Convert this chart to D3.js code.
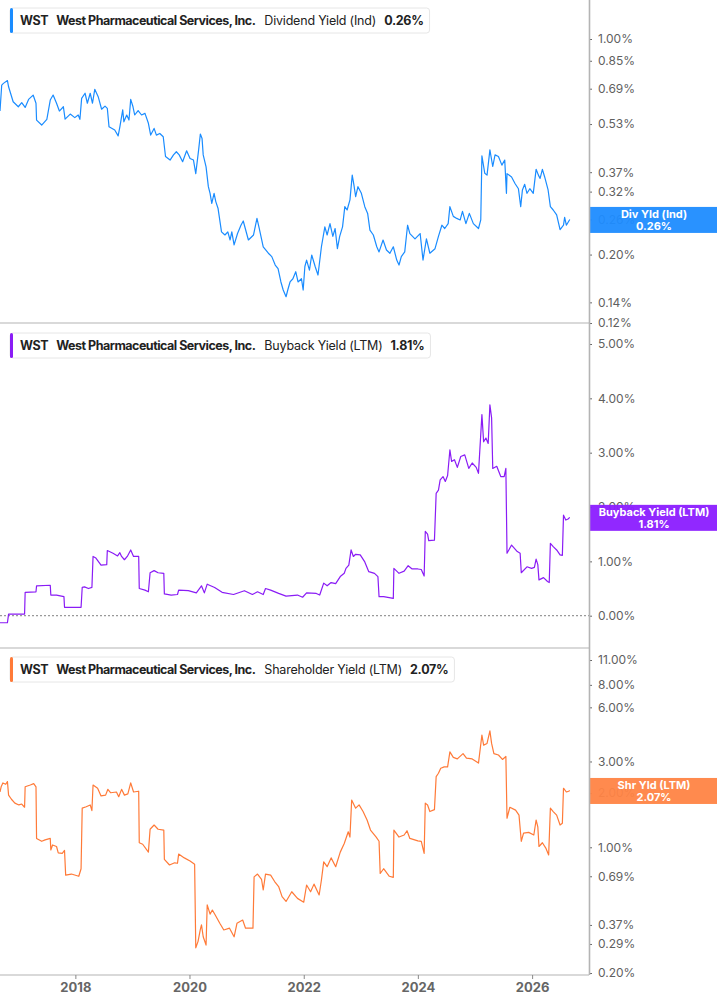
<!DOCTYPE html>
<html><head><meta charset="utf-8">
<script src="https://cdn.jsdelivr.net/npm/d3@7/dist/d3.min.js"></script>
<style>
html,body{margin:0;padding:0;background:#fff;}
svg{display:block;font-family:Inter,"Noto Sans",sans-serif;}
</style></head><body>
<svg id="c" width="717" height="1005"></svg>
<script>
// ---- data (decimal years, values in %) ----
const divYears = [2016.68,2016.71,2016.74,2016.81,2016.83,2016.91,2017.00,2017.06,2017.12,2017.18,2017.26,2017.31,2017.32,2017.41,2017.50,2017.56,2017.61,2017.67,2017.72,2017.79,2017.82,2017.91,2017.99,2018.05,2018.08,2018.11,2018.17,2018.21,2018.26,2018.30,2018.34,2018.40,2018.46,2018.52,2018.56,2018.59,2018.69,2018.75,2018.78,2018.83,2018.85,2018.90,2018.94,2018.97,2019.01,2019.04,2019.10,2019.16,2019.22,2019.28,2019.32,2019.38,2019.42,2019.48,2019.54,2019.58,2019.66,2019.72,2019.77,2019.82,2019.88,2019.95,2020.01,2020.07,2020.11,2020.16,2020.19,2020.22,2020.24,2020.29,2020.33,2020.36,2020.39,2020.43,2020.46,2020.50,2020.56,2020.62,2020.67,2020.71,2020.74,2020.78,2020.84,2020.90,2020.94,2021.03,2021.12,2021.18,2021.22,2021.29,2021.38,2021.44,2021.50,2021.55,2021.60,2021.64,2021.69,2021.72,2021.76,2021.81,2021.86,2021.90,2021.96,2021.99,2022.02,2022.05,2022.10,2022.14,2022.20,2022.25,2022.31,2022.37,2022.41,2022.46,2022.51,2022.55,2022.59,2022.63,2022.68,2022.72,2022.76,2022.81,2022.85,2022.88,2022.91,2022.95,2023.01,2023.07,2023.12,2023.16,2023.22,2023.28,2023.32,2023.39,2023.45,2023.51,2023.57,2023.63,2023.67,2023.71,2023.77,2023.82,2023.86,2023.95,2024.04,2024.09,2024.15,2024.21,2024.30,2024.36,2024.42,2024.47,2024.53,2024.56,2024.62,2024.68,2024.74,2024.78,2024.84,2024.90,2024.97,2025.06,2025.10,2025.12,2025.17,2025.21,2025.26,2025.31,2025.35,2025.41,2025.47,2025.52,2025.55,2025.56,2025.64,2025.70,2025.76,2025.80,2025.83,2025.87,2025.91,2025.96,2026.02,2026.07,2026.11,2026.14,2026.18,2026.22,2026.28,2026.32,2026.37,2026.43,2026.49,2026.55,2026.57,2026.60,2026.66];
const divValues = [0.584,0.709,0.718,0.733,0.700,0.626,0.603,0.622,0.600,0.637,0.658,0.619,0.546,0.526,0.549,0.634,0.658,0.619,0.584,0.603,0.550,0.571,0.556,0.567,0.549,0.642,0.667,0.619,0.667,0.619,0.687,0.650,0.592,0.606,0.596,0.519,0.507,0.485,0.519,0.589,0.539,0.567,0.546,0.637,0.603,0.567,0.586,0.567,0.574,0.533,0.488,0.513,0.488,0.494,0.482,0.416,0.405,0.421,0.431,0.421,0.400,0.434,0.410,0.405,0.366,0.437,0.492,0.476,0.421,0.385,0.332,0.316,0.293,0.316,0.297,0.282,0.237,0.2315,0.237,0.223,0.237,0.215,0.234,0.249,0.257,0.223,0.2315,0.262,0.243,0.212,0.202,0.197,0.185,0.180,0.163,0.1535,0.146,0.1535,0.163,0.167,0.176,0.163,0.167,0.1535,0.183,0.192,0.178,0.1994,0.183,0.1717,0.212,0.246,0.2315,0.252,0.229,0.243,0.209,0.229,0.246,0.286,0.279,0.301,0.362,0.336,0.308,0.332,0.316,0.286,0.272,0.240,0.2315,0.212,0.204,0.223,0.207,0.202,0.212,0.192,0.185,0.197,0.204,0.249,0.234,0.225,0.234,0.192,0.225,0.202,0.209,0.229,0.249,0.243,0.252,0.286,0.266,0.262,0.259,0.276,0.252,0.272,0.252,0.243,0.259,0.418,0.367,0.362,0.437,0.386,0.421,0.416,0.390,0.405,0.316,0.366,0.357,0.340,0.327,0.286,0.324,0.338,0.316,0.327,0.316,0.378,0.362,0.353,0.378,0.357,0.324,0.286,0.279,0.269,0.241,0.249,0.264,0.249,0.26];

const bbYears = [2016.68,2016.81,2016.83,2017.11,2017.12,2017.31,2017.32,2017.56,2017.57,2017.67,2017.80,2017.81,2018.10,2018.12,2018.16,2018.23,2018.29,2018.31,2018.36,2018.45,2018.55,2018.56,2018.66,2018.74,2018.78,2018.81,2018.86,2018.91,2018.97,2019.02,2019.11,2019.12,2019.22,2019.28,2019.31,2019.38,2019.45,2019.55,2019.56,2019.68,2019.79,2019.81,2019.98,2020.12,2020.21,2020.26,2020.31,2020.44,2020.57,2020.77,2020.96,2021.10,2021.19,2021.29,2021.33,2021.42,2021.56,2021.69,2021.89,2021.98,2022.05,2022.22,2022.28,2022.35,2022.41,2022.48,2022.56,2022.64,2022.71,2022.74,2022.79,2022.83,2022.87,2022.91,2022.99,2023.07,2023.14,2023.24,2023.30,2023.32,2023.40,2023.57,2023.58,2023.67,2023.76,2023.83,2023.90,2024.00,2024.06,2024.11,2024.13,2024.17,2024.19,2024.29,2024.32,2024.36,2024.39,2024.44,2024.48,2024.52,2024.56,2024.59,2024.64,2024.69,2024.75,2024.82,2024.89,2024.95,2025.02,2025.06,2025.12,2025.15,2025.19,2025.23,2025.26,2025.29,2025.31,2025.38,2025.45,2025.51,2025.54,2025.56,2025.64,2025.74,2025.79,2025.81,2025.91,2025.99,2026.04,2026.07,2026.10,2026.12,2026.20,2026.27,2026.30,2026.32,2026.37,2026.43,2026.49,2026.53,2026.55,2026.59,2026.63,2026.66];
const bbValues = [-0.13,-0.13,0.03,0.03,0.43,0.44,0.55,0.56,0.38,0.38,0.35,0.155,0.155,0.52,0.53,0.50,0.52,1.09,1.06,0.93,0.94,1.20,1.15,1.10,1.16,1.09,1.03,1.09,1.21,1.09,1.09,0.50,0.47,0.44,0.79,0.83,0.79,0.78,0.40,0.38,0.39,0.47,0.46,0.42,0.55,0.42,0.58,0.52,0.43,0.39,0.46,0.39,0.44,0.39,0.50,0.47,0.41,0.36,0.38,0.34,0.42,0.41,0.38,0.60,0.55,0.61,0.59,0.72,0.78,0.87,0.93,1.21,1.09,1.13,1.12,0.99,0.81,0.78,0.72,0.35,0.35,0.32,0.87,0.78,0.82,0.92,0.86,0.86,0.85,0.73,1.55,1.50,1.38,1.39,2.25,2.31,2.50,2.56,2.47,2.58,3.05,2.84,2.87,2.73,2.93,2.96,2.71,2.81,2.73,2.62,3.70,3.20,3.27,3.17,3.88,3.64,2.71,2.75,2.56,2.56,2.71,1.15,1.30,1.18,1.15,0.79,0.90,0.87,0.89,1.04,0.94,0.66,0.70,0.63,0.61,1.33,1.27,1.21,1.12,1.11,1.85,1.76,1.78,1.81];

const shYears = [2016.68,2016.70,2016.73,2016.78,2016.81,2016.83,2016.88,2016.94,2017.01,2017.06,2017.11,2017.12,2017.21,2017.27,2017.31,2017.32,2017.41,2017.47,2017.56,2017.57,2017.60,2017.67,2017.70,2017.77,2017.81,2017.83,2017.93,2018.06,2018.10,2018.12,2018.19,2018.26,2018.29,2018.31,2018.39,2018.45,2018.53,2018.57,2018.62,2018.72,2018.76,2018.81,2018.86,2018.92,2018.97,2019.02,2019.11,2019.12,2019.18,2019.28,2019.31,2019.38,2019.45,2019.55,2019.56,2019.65,2019.74,2019.79,2019.81,2019.91,2020.01,2020.09,2020.11,2020.15,2020.19,2020.21,2020.24,2020.29,2020.31,2020.36,2020.40,2020.45,2020.53,2020.60,2020.70,2020.78,2020.83,2020.93,2020.98,2021.11,2021.13,2021.19,2021.26,2021.29,2021.33,2021.42,2021.49,2021.56,2021.62,2021.69,2021.79,2021.89,2022.00,2022.05,2022.12,2022.18,2022.27,2022.31,2022.35,2022.41,2022.48,2022.56,2022.64,2022.71,2022.78,2022.81,2022.84,2022.91,2022.97,2023.04,2023.11,2023.17,2023.27,2023.32,2023.34,2023.40,2023.50,2023.57,2023.58,2023.67,2023.76,2023.81,2023.86,2024.00,2024.06,2024.11,2024.13,2024.17,2024.21,2024.29,2024.32,2024.36,2024.40,2024.46,2024.52,2024.56,2024.62,2024.69,2024.79,2024.85,2024.95,2025.06,2025.12,2025.15,2025.21,2025.26,2025.29,2025.33,2025.41,2025.48,2025.54,2025.56,2025.61,2025.71,2025.77,2025.81,2025.85,2025.94,2026.03,2026.07,2026.10,2026.12,2026.18,2026.24,2026.29,2026.32,2026.37,2026.43,2026.49,2026.53,2026.55,2026.60,2026.64,2026.66];
const shValues = [2.03,2.17,2.28,2.24,2.32,1.95,1.85,1.76,1.72,1.74,1.67,2.17,2.22,2.26,2.17,1.12,1.08,1.10,1.12,0.966,1.03,1.01,0.93,0.925,0.96,0.70,0.71,0.69,0.76,1.65,1.68,1.72,1.60,2.22,2.13,1.93,1.95,2.10,2.01,2.03,1.91,2.10,1.95,1.98,2.28,2.03,2.05,1.06,1.04,0.94,1.26,1.33,1.26,1.247,0.857,0.797,0.82,0.815,0.917,0.873,0.84,0.805,0.276,0.30,0.35,0.37,0.318,0.286,0.478,0.425,0.448,0.42,0.378,0.347,0.355,0.318,0.378,0.394,0.355,0.355,0.685,0.71,0.664,0.579,0.71,0.70,0.645,0.605,0.532,0.50,0.566,0.52,0.495,0.617,0.566,0.624,0.543,0.658,0.83,0.78,0.873,0.78,0.94,1.05,1.22,1.14,1.83,1.65,1.72,1.58,1.418,1.247,1.14,1.08,0.715,0.76,0.69,0.68,1.247,1.14,1.17,1.236,1.12,1.085,1.08,0.925,1.76,1.72,1.58,1.62,2.47,2.58,2.75,2.80,2.80,3.39,3.16,3.10,3.32,3.13,3.10,2.94,4.21,3.70,3.78,4.44,3.78,3.32,3.26,3.08,3.20,1.45,1.67,1.61,1.51,1.08,1.20,1.21,1.17,1.418,1.30,1.01,1.06,0.99,0.906,1.65,1.58,1.51,1.33,1.36,2.13,2.03,2.05,2.07];

const divTicks = [1.00,0.85,0.69,0.53,0.37,0.32,0.26,0.20,0.14,0.12];
const bbTicks = [5,4,3,2,1,0];
const shTicks = [11,8,6,3,2,1,0.69,0.37,0.29,0.20];
const yearTicks = [2018,2020,2022,2024,2026];

const ticker = "WST";
const company = "West Pharmaceutical Services, Inc.";
const metricNames = ["Dividend Yield (Ind)","Buyback Yield (LTM)","Shareholder Yield (LTM)"];
const shortNames = ["Div Yld (Ind)","Buyback Yield (LTM)","Shr Yld (LTM)"];
const lastValues = [0.26,1.81,2.07];

// ---- helpers ----
function decToDate(y){
  const yr = Math.floor(y);
  const s = new Date(yr,0,1).getTime(), e = new Date(yr+1,0,1).getTime();
  return new Date(s + (y-yr)*(e-s));
}
const svg = d3.select("#c");
const AX = 589;
const x = d3.scaleTime().domain([decToDate(2016.68), decToDate(2026.997)]).range([0, AX]);

const panels = [
  {years:divYears, vals:divValues, ticks:divTicks, color:"#1a8cff", box:"#1e8cff",
   y:d3.scaleLog().domain([0.12,1.0]).range([323,39]), top:0, bottom:323, legendY:8},
  {years:bbYears, vals:bbValues, ticks:bbTicks, color:"#8a1cf5", box:"#8b1cff",
   y:d3.scaleLinear().domain([0,5]).range([615.7,344]), top:325, bottom:648, legendY:333, zero:true},
  {years:shYears, vals:shValues, ticks:shTicks, color:"#ff7a38", box:"#ff8445",
   y:d3.scaleLog().domain([0.2,11]).range([973,660]), top:650, bottom:975, legendY:657}
];

const fmt = v => v.toFixed(2) + "%";

panels.forEach((p,i) => {
  const g = svg.append("g");
  svg.append("clipPath").attr("id","clip"+i).append("rect")
    .attr("x",0).attr("y",p.top).attr("width",AX).attr("height",p.bottom-p.top);
  g.append("line").attr("x1",0).attr("x2",AX).attr("y1",p.bottom).attr("y2",p.bottom)
    .attr("stroke","#b4b4b4").attr("stroke-width",1.2);
  if (p.zero){
    g.append("line").attr("x1",0).attr("x2",AX).attr("y1",p.y(0)).attr("y2",p.y(0))
      .attr("stroke","#999").attr("stroke-width",1.2).attr("stroke-dasharray","2,2");
  }
  const ax = d3.axisRight(p.y).tickValues(p.ticks).tickSize(3).tickPadding(6).tickFormat(fmt);
  const ag = g.append("g").attr("transform",`translate(${AX},0)`).call(ax);
  ag.select(".domain").remove();
  ag.selectAll(".tick line").attr("stroke","#666");
  ag.selectAll(".tick text").attr("fill","#5f5f5f").attr("font-size",12)
    .attr("font-family","Inter,sans-serif");
  const data = p.years.map((yy,k)=>({d:decToDate(yy), v:p.vals[k]}));
  g.append("path").datum(data)
    .attr("clip-path",`url(#clip${i})`)
    .attr("fill","none").attr("stroke",p.color).attr("stroke-width",1.2)
    .attr("stroke-linejoin","round")
    .attr("d", d3.line().x(d=>x(d.d)).y(d=>p.y(d.v)));
  // legend
  const lg = svg.append("g").attr("transform",`translate(10,${p.legendY})`);
  const bg = lg.append("rect").attr("x",0).attr("y",0).attr("height",25).attr("rx",3)
    .attr("fill","#fff").attr("stroke","#e6e6e6").attr("stroke-width",1);
  lg.append("rect").attr("x",0).attr("y",0).attr("width",3).attr("height",25).attr("rx",1.5)
    .attr("fill",p.color);
  const t = lg.append("text").attr("x",10).attr("y",17).attr("font-size",12.5).attr("fill","#222");
  t.append("tspan").attr("font-weight","700").attr("letter-spacing",-0.4).text(ticker);
  t.append("tspan").attr("dx",8).attr("font-weight","700").attr("letter-spacing",-0.5).text(company);
  t.append("tspan").attr("dx",9).attr("font-weight","400").attr("letter-spacing",-0.2).text(metricNames[i]);
  t.append("tspan").attr("dx",8).attr("font-weight","700").attr("letter-spacing",-0.3).text(fmt(lastValues[i]));
  const w = t.node().getBBox().width;
  bg.attr("width", w + 16);
  // right value box
  const yv = p.y(lastValues[i]);
  const rb = svg.append("g");
  rb.append("rect").attr("x",AX+1).attr("y",yv-12.5).attr("width",717-AX).attr("height",26)
    .attr("fill",p.box).attr("fill-opacity",0.95);
  rb.append("text").attr("x",(AX+717)/2+1).attr("y",yv-1.5).attr("text-anchor","middle")
    .attr("font-size",11).attr("font-weight","700").attr("fill","#fff").text(shortNames[i]);
  rb.append("text").attr("x",(AX+717)/2+1).attr("y",yv+10.5).attr("text-anchor","middle")
    .attr("font-size",11).attr("font-weight","700").attr("fill","#fff").text(fmt(lastValues[i]));
});

svg.append("line").attr("x1",AX+0.5).attr("x2",AX+0.5).attr("y1",0).attr("y2",975)
  .attr("stroke","#b4b4b4").attr("stroke-width",1.6);

const xa = d3.axisBottom(x).tickValues(yearTicks.map(y=>new Date(y,0,1)))
  .tickSize(4).tickPadding(4).tickFormat(d3.timeFormat("%Y"));
const xg = svg.append("g").attr("transform","translate(0,975)").call(xa);
xg.select(".domain").remove();
xg.selectAll(".tick line").attr("stroke","#888");
xg.selectAll(".tick text").attr("fill","#666").attr("font-size",13).attr("font-weight","700")
  .attr("font-family","Inter,sans-serif");
</script>
</body></html>
